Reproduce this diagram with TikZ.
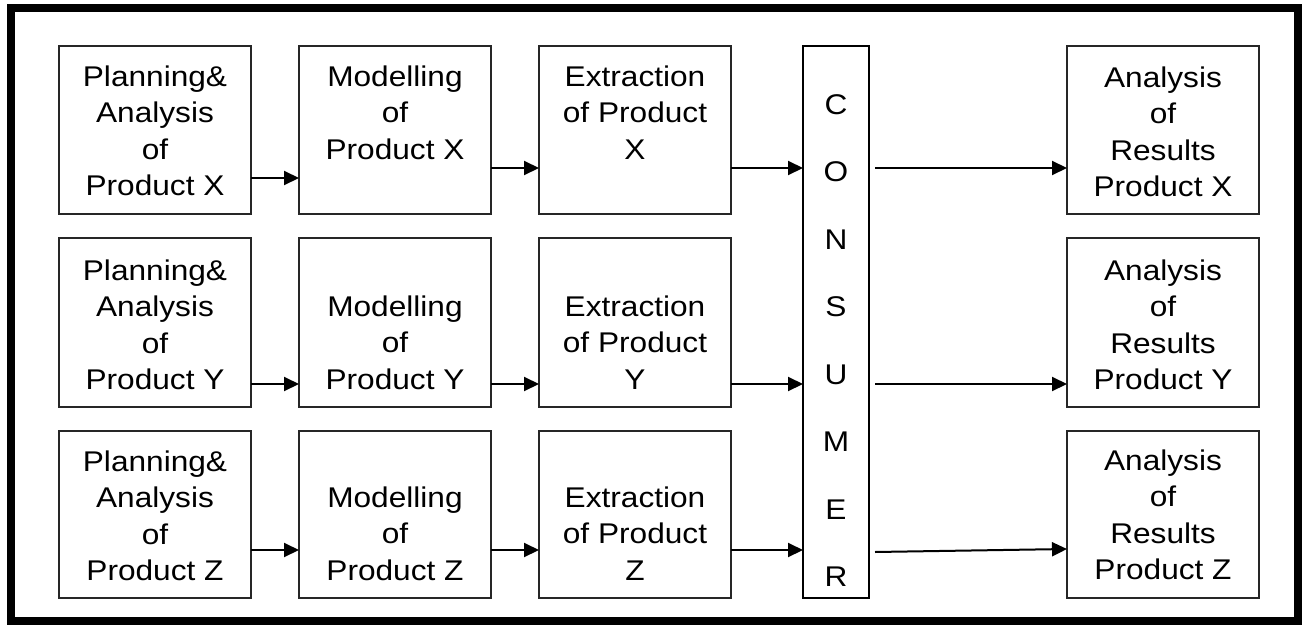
\documentclass[tikz,border=0pt]{standalone}
\usepackage{fontspec}
\setmainfont{Liberation Sans}[FakeStretch=1.11]
\usetikzlibrary{arrows.meta,calc}
% fixed height for the first line of every label, so labels can be placed by baseline
\newcommand\firstrow{\rule{0pt}{22pt}}
\begin{document}
\begin{tikzpicture}[x=1pt,y=-1pt,
  box/.style={draw=black!85,line width=1.3pt,minimum width=192pt,inner sep=0pt,outer sep=0pt},
  txt/.style={anchor=north,align=center,inner sep=0pt,font=\fontsize{28.5}{36.5}\selectfont},
  arr/.style={line width=2pt,-{Triangle[length=15pt,width=14pt]}}]
\useasboundingbox (0,0) rectangle (1306,629);

% outer frame
\draw[line width=8pt] (11,7.5) rectangle (1297.5,621);

% boxes, row X
\node[box,minimum height=168pt] (px) at (155,130) {};
\node[box,minimum height=168pt] (mx) at (395,130) {};
\node[box,minimum height=168pt] (ex) at (635,130) {};
\node[box,minimum height=168pt] (ax) at (1163,130) {};
% boxes, row Y
\node[box,minimum height=169pt] (py) at (155,322.5) {};
\node[box,minimum height=169pt] (my) at (395,322.5) {};
\node[box,minimum height=169pt] (ey) at (635,322.5) {};
\node[box,minimum height=169pt] (ay) at (1163,322.5) {};
% boxes, row Z
\node[box,minimum height=167pt] (pz) at (155,514.5) {};
\node[box,minimum height=167pt] (mz) at (395,514.5) {};
\node[box,minimum height=167pt] (ez) at (635,514.5) {};
\node[box,minimum height=167pt] (az) at (1163,514.5) {};
% consumer column
\node[box,draw=black,minimum width=66pt,minimum height=552pt] (c) at (836,322) {};

% labels (position = first baseline - 22)
\node[txt] (tpx) at (155,64) {\firstrow Planning\&\\Analysis\\of\\Product X};
\node[txt] (tmx) at (395,64) {\firstrow Modelling\\of\\Product X};
\node[txt] (tex) at (635,64) {\firstrow Extraction\\of Product\\X};
\node[txt] (tax) at (1163,65) {\firstrow Analysis\\of\\Results\\Product X};

\node[txt] (tpy) at (155,258) {\firstrow Planning\&\\Analysis\\of\\Product Y};
\node[txt] (tmy) at (395,294) {\firstrow Modelling\\of\\Product Y};
\node[txt] (tey) at (635,294) {\firstrow Extraction\\of Product\\Y};
\node[txt] (tay) at (1163,258) {\firstrow Analysis\\of\\Results\\Product Y};

\node[txt] (tpz) at (155,449) {\firstrow Planning\&\\Analysis\\of\\Product Z};
\node[txt] (tmz) at (395,485) {\firstrow Modelling\\of\\Product Z};
\node[txt] (tez) at (635,485) {\firstrow Extraction\\of Product\\Z};
\node[txt] (taz) at (1163,448) {\firstrow Analysis\\of\\Results\\Product Z};

\node[txt,font=\fontsize{28.5}{67.5}\selectfont] (tc) at (836,92)
  {\firstrow C\\O\\N\\S\\U\\M\\E\\R};

% connectors, row X
\draw[arr] (px.east |- 0,178) -- (mx.west |- 0,178);
\draw[arr] (mx.east |- 0,168) -- (ex.west |- 0,168);
\draw[arr] (ex.east |- 0,168) -- (c.west |- 0,168);
\draw[arr] ($(c.east |- 0,168)+(6,0)$) -- (ax.west |- 0,168);
% connectors, row Y
\draw[arr] (py.east |- 0,384) -- (my.west |- 0,384);
\draw[arr] (my.east |- 0,384) -- (ey.west |- 0,384);
\draw[arr] (ey.east |- 0,384) -- (c.west |- 0,384);
\draw[arr] ($(c.east |- 0,384)+(6,0)$) -- (ay.west |- 0,384);
% connectors, row Z
\draw[arr] (pz.east |- 0,550) -- (mz.west |- 0,550);
\draw[arr] (mz.east |- 0,550) -- (ez.west |- 0,550);
\draw[arr] (ez.east |- 0,550) -- (c.west |- 0,550);
\draw[arr] ($(c.east |- 0,552)+(6,0)$) -- (az.west |- 0,549);
\end{tikzpicture}
\end{document}
